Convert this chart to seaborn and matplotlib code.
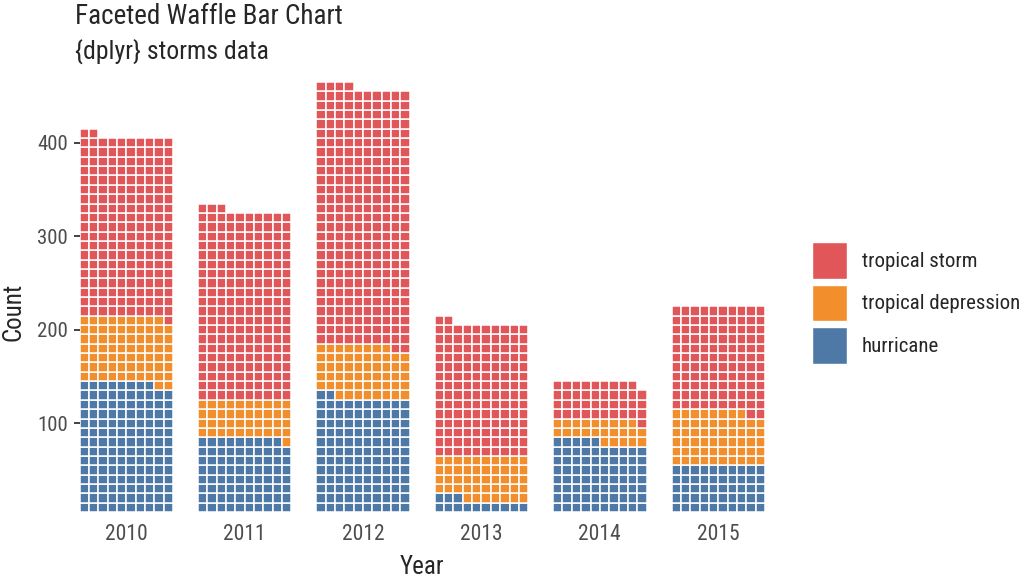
import matplotlib
matplotlib.use("Agg")
import matplotlib.pyplot as plt
import matplotlib.patches as mpatches
from matplotlib import font_manager
from matplotlib.ticker import FuncFormatter
import numpy as np
import pandas as pd
import seaborn as sns

years = [2010, 2011, 2012, 2013, 2014, 2015]
statuses = ["hurricane", "tropical depression", "tropical storm"]
hurricane = [138, 79, 122, 13, 75, 50]
tropical_depression = [71, 41, 56, 47, 24, 58]
tropical_storm = [193, 203, 276, 142, 40, 112]
colors = {"tropical storm": "#E15759", "tropical depression": "#F28E2B", "hurricane": "#4E79A7"}
n_rows = 10  # tiles per row, y labels multiplied by this

counts = pd.DataFrame({"year": years, "hurricane": hurricane,
                       "tropical depression": tropical_depression,
                       "tropical storm": tropical_storm})

# one record per tile, filled left to right, bottom to top
recs = []
for _, r in counts.iterrows():
    k = 0
    for st in statuses:
        for _ in range(int(r[st])):
            recs.append((int(r["year"]), st, k % n_rows + 1, k // n_rows + 1))
            k += 1
tiles = pd.DataFrame(recs, columns=["year", "status", "col", "row"])

sns.set_theme(style="white")
names = {f.name for f in font_manager.fontManager.ttflist}
fam = "Roboto Condensed" if "Roboto Condensed" in names else "Roboto"
plt.rcParams["font.family"] = [fam, "DejaVu Sans"]

W, H = 1024, 579
fig = plt.figure(figsize=(W / 100, H / 100), dpi=100)

top_row = tiles["row"].max()
axes = []
for i, yr in enumerate(years):
    left = 79.5 + 118.4 * i
    ax = fig.add_axes([left / W, 67 / H, 93.5 / W, 430 / H])
    d = tiles[tiles.year == yr]
    for st in statuses:
        s = d[d.status == st]
        ax.bar(s["col"], 1, bottom=s["row"] - 0.5, width=1, color=colors[st],
               edgecolor="white", linewidth=1.1)
    ax.set_xlim(0.5, 10.5)
    ax.set_ylim(0.5, top_row + 0.5)
    ax.set_xticks([5.5], [str(yr)])
    ax.tick_params(axis="x", length=0, pad=9, labelsize=15.5, labelcolor="#4D4D4D")
    ax.set_yticks([10, 20, 30, 40])
    if i == 0:
        ax.yaxis.set_major_formatter(FuncFormatter(lambda v, p: f"{int(v * n_rows)}"))
        ax.tick_params(axis="y", length=4.5, width=1.2, color="#222222", pad=4,
                       labelsize=15, labelcolor="#4D4D4D", left=True)
    else:
        ax.tick_params(axis="y", left=False, labelleft=False)
    for sp in ax.spines.values():
        sp.set_visible(False)
    ax.grid(False)
    ax.set_facecolor("white")
    axes.append(ax)

fig.text(75 / W, 1 - 3 / H, "Faceted Waffle Bar Chart", fontsize=19.5, va="top", ha="left")
fig.text(75 / W, 1 - 40 / H, "{dplyr} storms data", fontsize=18.5, va="top", ha="left")
fig.text(422 / W, 1 - 567 / H, "Year", fontsize=18, ha="center", va="center")
fig.text(13 / W, 1 - 312 / H, "Count", fontsize=18, ha="center", va="center", rotation=90)

handles = [mpatches.Patch(facecolor=colors[s], edgecolor="white", label=s)
           for s in reversed(statuses)]
fig.legend(handles=handles, loc="center left", bbox_to_anchor=(812 / W, 1 - 303 / H),
           frameon=False, fontsize=15, handlelength=1.7, handleheight=2.3,
           handletextpad=0.7, labelspacing=0.3, borderpad=0, borderaxespad=0)

fig.savefig("out.png", dpi=100, facecolor="white")
